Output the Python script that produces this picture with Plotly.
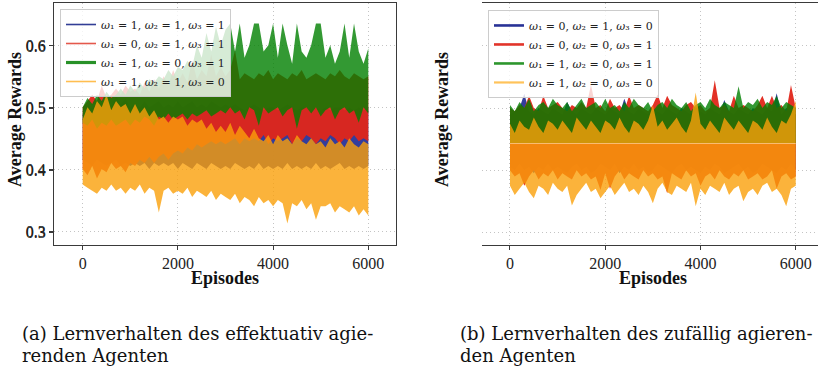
import plotly.graph_objects as go

# Episode grid at which the reward envelopes are read (every 100 episodes)
EPISODES = list(range(0, 6001, 100))
X_TICKS = [0, 2000, 4000, 6000]
Y_TICKS = [0.3, 0.4, 0.5, 0.6]

# ---------- (a) effectual agent: upper / lower envelope of each reward curve ----------
LEGEND_A = [
    "<i>ω</i>₁ = 1, <i>ω</i>₂ = 1, <i>ω</i>₃ = 1",
    "<i>ω</i>₁ = 0, <i>ω</i>₂ = 1, <i>ω</i>₃ = 1",
    "<i>ω</i>₁ = 1, <i>ω</i>₂ = 0, <i>ω</i>₃ = 1",
    "<i>ω</i>₁ = 1, <i>ω</i>₂ = 1, <i>ω</i>₃ = 0",
]
A_BLUE_UP = [0.49, 0.495, 0.50, 0.505, 0.50, 0.51, 0.50, 0.52, 0.505, 0.515, 0.50,
             0.505, 0.50, 0.51, 0.50, 0.505, 0.51, 0.50, 0.505, 0.50, 0.51,
             0.50, 0.505, 0.51, 0.50, 0.505, 0.50, 0.51, 0.505, 0.50, 0.505,
             0.50, 0.505, 0.50, 0.495, 0.50, 0.505, 0.50, 0.495, 0.50, 0.50,
             0.495, 0.50, 0.505, 0.50, 0.495, 0.50, 0.50, 0.495, 0.50, 0.495,
             0.50, 0.495, 0.50, 0.50, 0.495, 0.50, 0.495, 0.50, 0.495, 0.50]
A_BLUE_LO = [0.415, 0.41, 0.405, 0.415, 0.41, 0.405, 0.41, 0.415, 0.405, 0.41, 0.405,
             0.41, 0.405, 0.41, 0.40, 0.41, 0.405, 0.41, 0.405, 0.41, 0.40,
             0.41, 0.405, 0.40, 0.41, 0.405, 0.40, 0.41, 0.405, 0.40, 0.405,
             0.40, 0.41, 0.405, 0.40, 0.405, 0.40, 0.41, 0.40, 0.405, 0.40,
             0.405, 0.40, 0.41, 0.40, 0.405, 0.40, 0.405, 0.40, 0.41, 0.40,
             0.405, 0.40, 0.405, 0.41, 0.40, 0.405, 0.40, 0.405, 0.40, 0.405]
A_RED_UP = [0.50, 0.51, 0.52, 0.51, 0.535, 0.515, 0.52, 0.53, 0.52, 0.535, 0.525,
            0.53, 0.52, 0.54, 0.525, 0.545, 0.53, 0.55, 0.535, 0.56, 0.54,
            0.555, 0.54, 0.575, 0.545, 0.56, 0.55, 0.585, 0.55, 0.565, 0.55,
            0.56, 0.592, 0.545, 0.555, 0.55, 0.545, 0.555, 0.55, 0.56, 0.545,
            0.555, 0.55, 0.545, 0.555, 0.55, 0.56, 0.545, 0.55, 0.555, 0.55,
            0.545, 0.555, 0.55, 0.56, 0.55, 0.545, 0.555, 0.55, 0.545, 0.55]
A_RED_LO = [0.40, 0.39, 0.405, 0.385, 0.40, 0.395, 0.41, 0.40, 0.405, 0.395, 0.41,
            0.405, 0.415, 0.41, 0.42, 0.41, 0.42, 0.425, 0.415, 0.425, 0.43,
            0.425, 0.435, 0.43, 0.44, 0.435, 0.44, 0.445, 0.44, 0.445, 0.44,
            0.445, 0.45, 0.44, 0.45, 0.445, 0.45, 0.445, 0.455, 0.44, 0.45,
            0.445, 0.45, 0.455, 0.44, 0.45, 0.445, 0.455, 0.45, 0.44, 0.45,
            0.445, 0.455, 0.45, 0.44, 0.45, 0.445, 0.455, 0.445, 0.45, 0.445]
A_GREEN_UP = [0.50, 0.515, 0.505, 0.52, 0.51, 0.525, 0.515, 0.52, 0.53, 0.52, 0.535,
              0.525, 0.54, 0.53, 0.545, 0.54, 0.55, 0.545, 0.56, 0.55, 0.565,
              0.56, 0.575, 0.565, 0.60, 0.58, 0.62, 0.59, 0.63, 0.60, 0.625,
              0.635, 0.59, 0.635, 0.58, 0.60, 0.635, 0.635, 0.59, 0.60, 0.635,
              0.58, 0.635, 0.60, 0.57, 0.635, 0.59, 0.58, 0.60, 0.635, 0.635,
              0.58, 0.60, 0.57, 0.59, 0.635, 0.58, 0.635, 0.59, 0.57, 0.595]
A_GREEN_LO = [0.475, 0.47, 0.48, 0.465, 0.475, 0.47, 0.48, 0.47, 0.475, 0.48, 0.47,
              0.48, 0.475, 0.485, 0.48, 0.47, 0.485, 0.48, 0.49, 0.48, 0.485,
              0.49, 0.48, 0.49, 0.485, 0.49, 0.495, 0.485, 0.49, 0.495, 0.49,
              0.50, 0.49, 0.495, 0.48, 0.50, 0.495, 0.47, 0.50, 0.49, 0.495,
              0.50, 0.485, 0.495, 0.50, 0.465, 0.495, 0.50, 0.49, 0.50, 0.485,
              0.495, 0.50, 0.48, 0.495, 0.50, 0.49, 0.495, 0.475, 0.50, 0.49]
A_ORANGE_UP = [0.48, 0.50, 0.49, 0.51, 0.50, 0.52, 0.495, 0.51, 0.50, 0.505, 0.49,
               0.505, 0.49, 0.50, 0.485, 0.495, 0.48, 0.485, 0.475, 0.485, 0.48,
               0.485, 0.47, 0.48, 0.475, 0.48, 0.465, 0.475, 0.46, 0.47, 0.46,
               0.475, 0.455, 0.47, 0.46, 0.45, 0.465, 0.45, 0.445, 0.455, 0.44,
               0.455, 0.445, 0.45, 0.44, 0.455, 0.445, 0.44, 0.45, 0.44, 0.445,
               0.435, 0.45, 0.44, 0.445, 0.435, 0.45, 0.44, 0.435, 0.445, 0.44]
A_ORANGE_LO = [0.375, 0.37, 0.365, 0.36, 0.37, 0.365, 0.375, 0.365, 0.37, 0.36, 0.37,
               0.365, 0.375, 0.36, 0.37, 0.365, 0.33, 0.365, 0.37, 0.36, 0.365,
               0.36, 0.37, 0.355, 0.365, 0.36, 0.355, 0.365, 0.35, 0.36, 0.355,
               0.35, 0.36, 0.345, 0.355, 0.35, 0.34, 0.355, 0.345, 0.35, 0.34,
               0.35, 0.345, 0.312, 0.345, 0.34, 0.35, 0.335, 0.345, 0.318, 0.34,
               0.34, 0.345, 0.33, 0.34, 0.335, 0.33, 0.34, 0.325, 0.335, 0.325]

# ---------- (b) random agent ----------
LEGEND_B = [
    "<i>ω</i>₁ = 0, <i>ω</i>₂ = 1, <i>ω</i>₃ = 0",
    "<i>ω</i>₁ = 0, <i>ω</i>₂ = 0, <i>ω</i>₃ = 1",
    "<i>ω</i>₁ = 1, <i>ω</i>₂ = 0, <i>ω</i>₃ = 1",
    "<i>ω</i>₁ = 1, <i>ω</i>₂ = 0, <i>ω</i>₃ = 0",
]
B_BLUE_UP = [0.49, 0.495, 0.50, 0.523, 0.495, 0.49, 0.50, 0.495, 0.49, 0.50, 0.495,
             0.49, 0.51, 0.495, 0.49, 0.50, 0.495, 0.49, 0.50, 0.495, 0.49,
             0.50, 0.495, 0.49, 0.515, 0.495, 0.49, 0.50, 0.495, 0.49, 0.50,
             0.495, 0.49, 0.50, 0.495, 0.49, 0.50, 0.495, 0.49, 0.50, 0.495,
             0.49, 0.50, 0.495, 0.49, 0.513, 0.495, 0.49, 0.50, 0.495, 0.49,
             0.50, 0.495, 0.49, 0.50, 0.495, 0.524, 0.49, 0.50, 0.495, 0.49]
B_BLUE_LO = [0.405, 0.40, 0.41, 0.40, 0.405, 0.395, 0.405, 0.40, 0.41, 0.40, 0.405,
             0.40, 0.395, 0.405, 0.41, 0.40, 0.405, 0.395, 0.40, 0.41, 0.405,
             0.40, 0.41, 0.395, 0.405, 0.40, 0.41, 0.40, 0.405, 0.395, 0.40,
             0.41, 0.405, 0.40, 0.395, 0.405, 0.41, 0.40, 0.405, 0.40, 0.395,
             0.405, 0.40, 0.41, 0.405, 0.395, 0.40, 0.405, 0.41, 0.40, 0.405,
             0.395, 0.40, 0.41, 0.405, 0.40, 0.395, 0.405, 0.40, 0.41, 0.40]
B_RED_UP = [0.50, 0.495, 0.505, 0.50, 0.52, 0.50, 0.495, 0.52, 0.50, 0.505, 0.51,
            0.50, 0.495, 0.505, 0.50, 0.51, 0.50, 0.538, 0.50, 0.505, 0.495,
            0.515, 0.50, 0.505, 0.495, 0.52, 0.50, 0.505, 0.50, 0.495, 0.505,
            0.522, 0.50, 0.52, 0.505, 0.50, 0.495, 0.505, 0.51, 0.50, 0.505,
            0.495, 0.50, 0.545, 0.50, 0.505, 0.495, 0.52, 0.50, 0.505, 0.50,
            0.495, 0.505, 0.52, 0.50, 0.52, 0.50, 0.505, 0.495, 0.537, 0.50]
B_RED_LO = [0.40, 0.39, 0.395, 0.375, 0.39, 0.40, 0.385, 0.395, 0.39, 0.40, 0.385,
            0.395, 0.39, 0.385, 0.40, 0.39, 0.395, 0.385, 0.39, 0.368, 0.395,
            0.37, 0.39, 0.40, 0.385, 0.395, 0.39, 0.385, 0.40, 0.39, 0.395,
            0.385, 0.39, 0.363, 0.395, 0.39, 0.385, 0.40, 0.39, 0.395, 0.375,
            0.39, 0.395, 0.385, 0.40, 0.39, 0.385, 0.395, 0.39, 0.40, 0.385,
            0.39, 0.395, 0.385, 0.39, 0.40, 0.37, 0.39, 0.395, 0.385, 0.39]
B_GREEN_UP = [0.505, 0.495, 0.51, 0.50, 0.515, 0.495, 0.505, 0.51, 0.50, 0.515, 0.505,
              0.50, 0.51, 0.495, 0.505, 0.515, 0.50, 0.505, 0.51, 0.50, 0.515,
              0.50, 0.505, 0.495, 0.51, 0.50, 0.515, 0.505, 0.50, 0.51, 0.495,
              0.505, 0.51, 0.50, 0.515, 0.505, 0.50, 0.51, 0.495, 0.505, 0.51,
              0.50, 0.515, 0.505, 0.50, 0.51, 0.505, 0.50, 0.535, 0.50, 0.51,
              0.505, 0.515, 0.50, 0.51, 0.505, 0.52, 0.50, 0.51, 0.505, 0.50]
B_GREEN_LO = [0.443, 0.443, 0.443, 0.443, 0.443, 0.443, 0.443, 0.443, 0.443, 0.443, 0.443,
              0.443, 0.443, 0.443, 0.443, 0.443, 0.443, 0.443, 0.443, 0.443, 0.443,
              0.443, 0.443, 0.443, 0.443, 0.443, 0.443, 0.443, 0.443, 0.443, 0.443,
              0.443, 0.443, 0.443, 0.443, 0.443, 0.443, 0.443, 0.443, 0.443, 0.443,
              0.443, 0.443, 0.443, 0.443, 0.443, 0.443, 0.443, 0.443, 0.443, 0.443,
              0.443, 0.443, 0.443, 0.443, 0.443, 0.443, 0.443, 0.443, 0.443, 0.443]
B_ORANGE_UP = [0.475, 0.46, 0.48, 0.47, 0.465, 0.485, 0.47, 0.46, 0.48, 0.475, 0.465,
               0.48, 0.47, 0.46, 0.485, 0.475, 0.465, 0.48, 0.47, 0.46, 0.48,
               0.475, 0.465, 0.485, 0.47, 0.46, 0.48, 0.475, 0.465, 0.48, 0.505,
               0.47, 0.48, 0.465, 0.475, 0.485, 0.47, 0.46, 0.48, 0.525, 0.475,
               0.465, 0.48, 0.47, 0.46, 0.485, 0.475, 0.465, 0.48, 0.47, 0.46,
               0.48, 0.475, 0.465, 0.485, 0.47, 0.46, 0.48, 0.475, 0.49, 0.512]
B_ORANGE_LO = [0.375, 0.36, 0.37, 0.38, 0.365, 0.355, 0.375, 0.37, 0.36, 0.38, 0.37,
               0.365, 0.375, 0.343, 0.36, 0.37, 0.38, 0.365, 0.37, 0.355, 0.365,
               0.375, 0.36, 0.37, 0.38, 0.365, 0.37, 0.36, 0.375, 0.365, 0.347,
               0.37, 0.38, 0.365, 0.36, 0.375, 0.37, 0.365, 0.38, 0.342, 0.37,
               0.36, 0.375, 0.37, 0.365, 0.38, 0.36, 0.37, 0.375, 0.35, 0.365,
               0.37, 0.36, 0.375, 0.38, 0.365, 0.37, 0.36, 0.342, 0.37, 0.375]

CAPTION_A = ["(a) Lernverhalten des effektuativ agie-", "renden Agenten"]
CAPTION_B = ["(b) Lernverhalten des zufällig agieren-", "den Agenten"]

# band fill colours (drawing order: blue, red, green, orange)
FILLS = ["rgba(30,40,145,0.9)", "rgba(224,38,26,0.95)",
         "rgba(0,128,0,0.8)", "rgba(250,160,10,0.8)"]
LEG_A_STYLE = [("rgb(50,62,150)", 1.6), ("rgb(228,88,76)", 1.6),
               ("rgb(40,145,40)", 3.2), ("rgb(255,190,80)", 1.6)]
LEG_B_STYLE = [("rgb(40,50,150)", 2.6), ("rgb(226,52,42)", 2.6),
               ("rgb(45,150,45)", 2.6), ("rgb(255,195,90)", 2.2)]

SERIF = "Liberation Serif, 'DejaVu Serif', serif"
WIDE_SERIF = "'DejaVu Serif', Liberation Serif, serif"
fig = go.Figure()


def add_panel(bands, names, leg_style, xa, ya, legend):
    for (up, lo), fc, name, (lc, lw) in zip(bands, FILLS, names, leg_style):
        fig.add_trace(go.Scatter(
            x=EPISODES + EPISODES[::-1], y=up + lo[::-1],
            fill="toself", fillcolor=fc, mode="none", hoverinfo="skip",
            showlegend=False, xaxis=xa, yaxis=ya))
        fig.add_trace(go.Scatter(
            x=[None], y=[None], mode="lines", name=name,
            line=dict(color=lc, width=lw), legend=legend,
            xaxis=xa, yaxis=ya))


add_panel([(A_BLUE_UP, A_BLUE_LO), (A_RED_UP, A_RED_LO),
           (A_GREEN_UP, A_GREEN_LO), (A_ORANGE_UP, A_ORANGE_LO)],
          LEGEND_A, LEG_A_STYLE, "x", "y", "legend")
add_panel([(B_BLUE_UP, B_BLUE_LO), (B_RED_UP, B_RED_LO),
           (B_GREEN_UP, B_GREEN_LO), (B_ORANGE_UP, B_ORANGE_LO)],
          LEGEND_B, LEG_B_STYLE, "x2", "y2", "legend2")

# faint seam along the lower edge of the green band in panel (b)
fig.add_trace(go.Scatter(x=EPISODES, y=B_GREEN_LO, mode="lines",
                         line=dict(color="rgba(255,200,140,0.8)", width=1),
                         hoverinfo="skip", showlegend=False,
                         xaxis="x2", yaxis="y2"))

axis_common = dict(
    showline=True, mirror=True, linecolor="#3a3a3a", linewidth=1.3,
    ticks="outside", ticklen=4, tickwidth=1, tickcolor="#3a3a3a",
    showgrid=True, gridcolor="#c4c4c4", griddash="1px,3px", gridwidth=1,
    zeroline=False, tickfont=dict(family=SERIF, size=16, color="#222"),
)
legend_common = dict(
    xanchor="left", yanchor="top", bgcolor="rgba(255,255,255,0.8)",
    bordercolor="#cccccc", borderwidth=1, tracegroupgap=0,
    font=dict(family=WIDE_SERIF, size=11, color="#222"),
)

fig.update_layout(
    width=820, height=369, margin=dict(l=0, r=0, t=0, b=0),
    paper_bgcolor="white", plot_bgcolor="white",
    font=dict(family=SERIF),
    xaxis=dict(domain=[0.06585, 0.48293], range=[-603, 6582],
               tickvals=X_TICKS, **axis_common),
    yaxis=dict(domain=[0.33604, 0.99187], range=[0.2774, 0.6683],
               tickvals=Y_TICKS, tickformat=".1f", **axis_common),
    xaxis2=dict(domain=[0.5878, 0.99817], range=[-588, 6478],
                tickvals=X_TICKS, **axis_common),
    yaxis2=dict(domain=[0.3374, 0.99187], range=[0.2804, 0.6692],
                tickvals=Y_TICKS, tickformat=".1f", **axis_common),
    legend=dict(x=0.0732, y=0.9756, **legend_common),
    legend2=dict(x=0.5951, y=0.973, **legend_common),
)

title_font = dict(family=SERIF, size=18, color="#111")
ann = [
    dict(text="<b>Average Rewards</b>", x=15 / 820, y=1 - 120 / 369,
         textangle=-90, font=title_font),
    dict(text="<b>Average Rewards</b>", x=442 / 820, y=1 - 120 / 369,
         textangle=-90, font=title_font),
    dict(text="<b>Episodes</b>", x=225 / 820, y=1 - 278 / 369, font=title_font),
    dict(text="<b>Episodes</b>", x=652.5 / 820, y=1 - 278 / 369, font=title_font),
]
cap_font = dict(family=WIDE_SERIF, size=18, color="#111")
for lines, x0 in ((CAPTION_A, 20), (CAPTION_B, 458)):
    for k, line in enumerate(lines):
        ann.append(dict(text=line, x=x0 / 820, y=1 - (333 + 22.5 * k) / 369,
                        xanchor="left", font=cap_font))
for a in ann:
    a.update(xref="paper", yref="paper", showarrow=False)
    a.setdefault("xanchor", "center")
    a.setdefault("yanchor", "middle")
fig.update_layout(annotations=ann)

fig.write_html("out.html")
